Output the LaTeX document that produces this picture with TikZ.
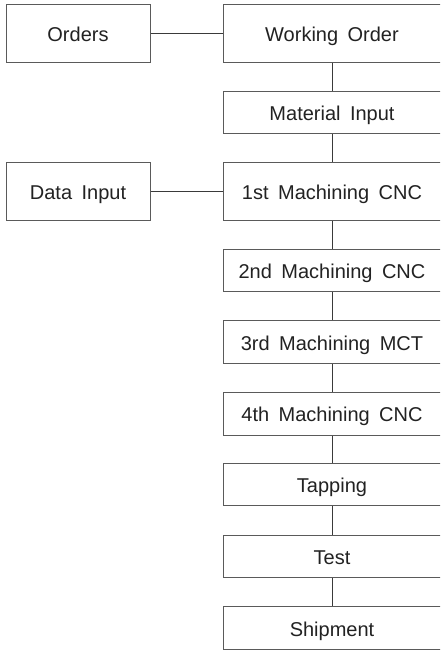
\documentclass[tikz,border=0pt]{standalone}
\usepackage{fontspec}
\setmainfont{Liberation Sans}[WordSpace=1.7]
\definecolor{boxgray}{HTML}{5A5A5A}
\definecolor{linegray}{HTML}{3A3A3A}
\definecolor{textcol}{HTML}{222222}
\tikzset{
  stepbox/.style={draw=boxgray, line width=1pt, inner sep=0pt, text=textcol,
    font=\fontsize{20}{24}\selectfont, fill=white, text height=16pt, text depth=0pt},
  leftbox/.style={stepbox, minimum width=144pt, minimum height=57.5pt},
  bigbox/.style={stepbox, minimum width=218pt, minimum height=57.5pt},
  smallbox/.style={stepbox, minimum width=218pt, minimum height=42.5pt},
  conn/.style={draw=linegray, line width=1pt}
}
\begin{document}
\begin{tikzpicture}[x=1pt,y=-1pt]
\useasboundingbox (0,0) rectangle (440,650);
\clip (0,0) rectangle (440,650);
\node[leftbox] (orders) at (78,33.5) {Orders};
\node[bigbox] (work) at (332,33.5) {Working Order};
\node[smallbox] (mat) at (332,112.5) {Material Input};
\node[leftbox] (data) at (78,191.7) {Data Input};
\node[bigbox] (m1) at (332,191.7) {1st Machining CNC};
\node[smallbox] (m2) at (332,270.5) {2nd Machining CNC};
\node[smallbox] (m3) at (332,342) {3rd Machining MCT};
\node[smallbox] (m4) at (332,413.8) {4th Machining CNC};
\node[smallbox] (tap) at (332,484.7) {Tapping};
\node[smallbox] (test) at (332,556.3) {Test};
\node[smallbox] (ship) at (332,628) {Shipment};
\draw[conn] (orders.east) -- (work.west);
\draw[conn] (data.east) -- (m1.west);
\draw[conn] (work.south) -- (mat.north);
\draw[conn] (mat.south) -- (m1.north);
\draw[conn] (m1.south) -- (m2.north);
\draw[conn] (m2.south) -- (m3.north);
\draw[conn] (m3.south) -- (m4.north);
\draw[conn] (m4.south) -- (tap.north);
\draw[conn] (tap.south) -- (test.north);
\draw[conn] (test.south) -- (ship.north);
\end{tikzpicture}
\end{document}
